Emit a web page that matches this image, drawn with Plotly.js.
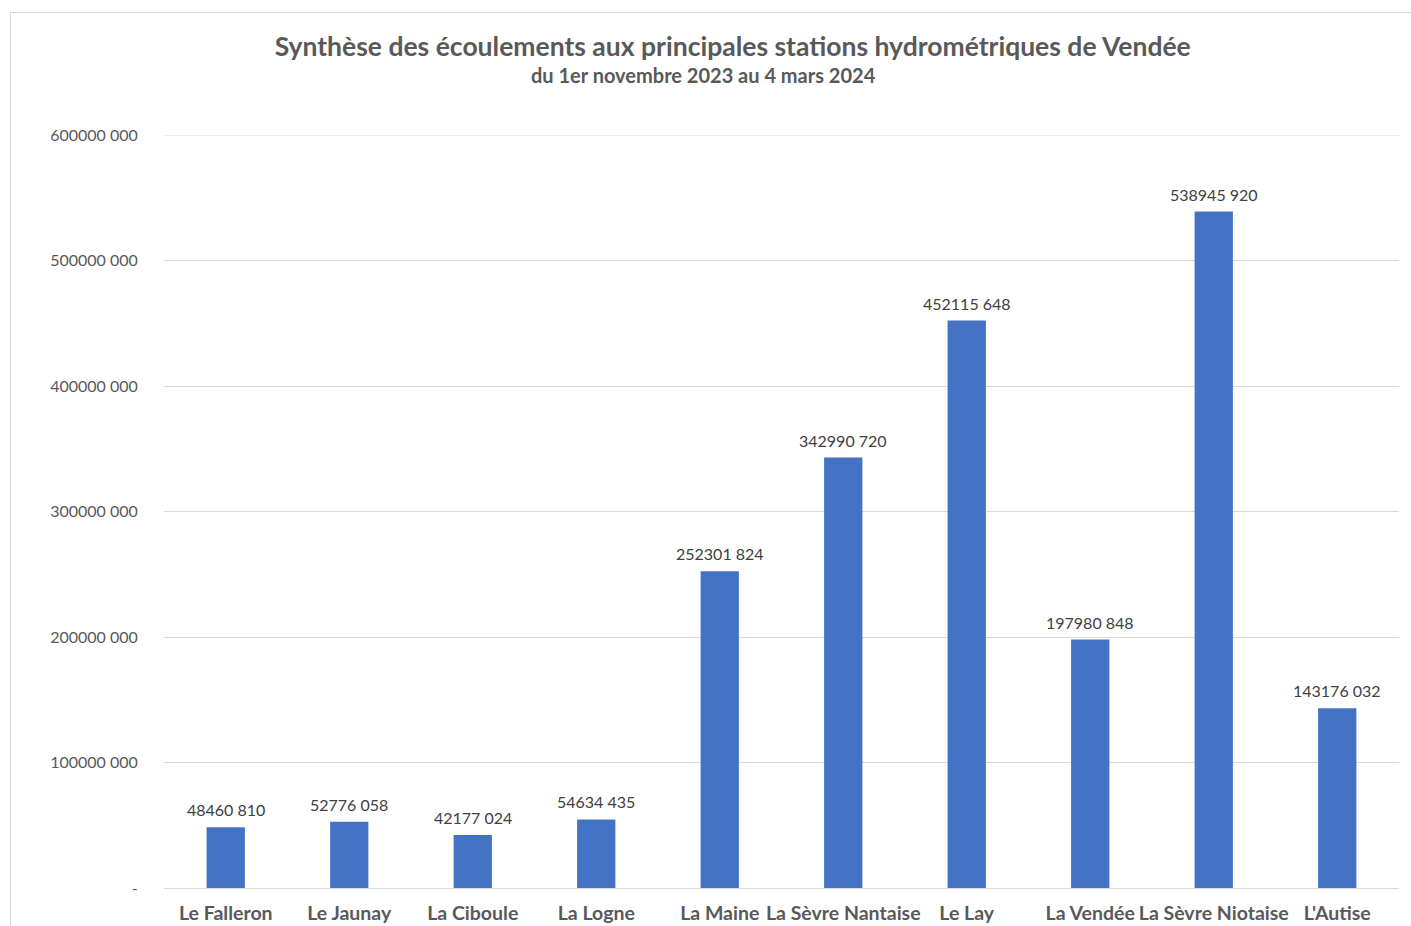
<!DOCTYPE html>
<html>
<head>
<meta charset="utf-8">
<script src="https://cdn.plot.ly/plotly-3.0.1.min.js"></script>
<style>
  html, body { margin: 0; padding: 0; background: #fff; width: 1411px; height: 926px; overflow: hidden; }
  #frame { position: absolute; left: 10px; top: 12px; width: 1401px; height: 914px;
           border-top: 1px solid #d9d9d9; border-left: 1px solid #d9d9d9; box-sizing: border-box; }
  #chart { position: absolute; left: 0; top: 0; width: 1400px; height: 913px; }
</style>
</head>
<body>
<div id="frame"><div id="chart"></div></div>
<script>
const stations = ["Le Falleron", "Le Jaunay", "La Ciboule", "La Logne", "La Maine",
                  "La Sèvre Nantaise", "Le Lay", "La Vendée", "La Sèvre Niotaise", "L'Autise"];
const volumes = [48460810, 52776058, 42177024, 54634435, 252301824,
                 342990720, 452115648, 197980848, 538945920, 143176032];
const yTicks = [0, 100000000, 200000000, 300000000, 400000000, 500000000, 600000000];
const titleText = "Synthèse des écoulements aux principales stations hydrométriques de Vendée";
const subtitleText = "du 1er novembre 2023 au 4 mars 2024";

function fmt(v) {
  if (v === 0) return "-";
  const hi = Math.floor(v / 1000);
  const lo = String(v % 1000).padStart(3, "0");
  return hi + " " + lo;
}

const FONT = "Lato, 'Open Sans', sans-serif";

const trace = {
  type: "bar",
  x: stations,
  y: volumes,
  marker: { color: "#4472C4" },
  hoverinfo: "x+y"
};

const annotations = stations.map((s, i) => ({
  x: s, y: volumes[i], xref: "x", yref: "y",
  text: fmt(volumes[i]), showarrow: false,
  yanchor: "bottom", yshift: 6,
  font: { family: FONT, size: 16, color: "#404040" }
}));
annotations.push({
  x: 0.4368, y: 1.0798, xref: "paper", yref: "paper",
  text: "<b>" + subtitleText + "</b>", showarrow: false,
  xanchor: "center", yanchor: "middle",
  font: { family: FONT, size: 20, color: "#595959" }
});

const layout = {
  width: 1400, height: 913,
  margin: { l: 153, r: 12, t: 122, b: 38 },
  paper_bgcolor: "#ffffff",
  plot_bgcolor: "#ffffff",
  showlegend: false,
  bargap: 0.69,
  title: {
    text: "<b>" + titleText + "</b>",
    x: 0.5155, xref: "container", xanchor: "center",
    y: 1 - 34 / 913, yref: "container", yanchor: "middle",
    font: { family: FONT, size: 26.5, color: "#595959" }
  },
  xaxis: {
    type: "category",
    showgrid: false,
    showline: true, linecolor: "#d9d9d9", linewidth: 1,
    ticks: "outside", ticklen: 8, tickcolor: "rgba(0,0,0,0)",
    tickangle: 0,
    tickfont: { family: FONT, size: 19.5, color: "#595959" },
    tickprefix: "<b>", ticksuffix: "</b>"
  },
  yaxis: {
    range: [0, 600000000],
    tickvals: yTicks,
    ticktext: yTicks.map(fmt),
    showgrid: true, gridcolor: "#d9d9d9", gridwidth: 1,
    zeroline: false, showline: false,
    ticks: "outside", ticklen: 22, tickcolor: "rgba(0,0,0,0)",
    tickfont: { family: FONT, size: 16, color: "#595959" }
  },
  shapes: [{
    type: "line", xref: "paper", yref: "y",
    x0: 0, x1: 1, y0: yTicks[yTicks.length - 1], y1: yTicks[yTicks.length - 1],
    line: { color: "#d9d9d9", width: 1 }
  }],
  annotations: annotations
};

Plotly.newPlot("chart", [trace], layout, { displayModeBar: false, staticPlot: true });
</script>
</body>
</html>
